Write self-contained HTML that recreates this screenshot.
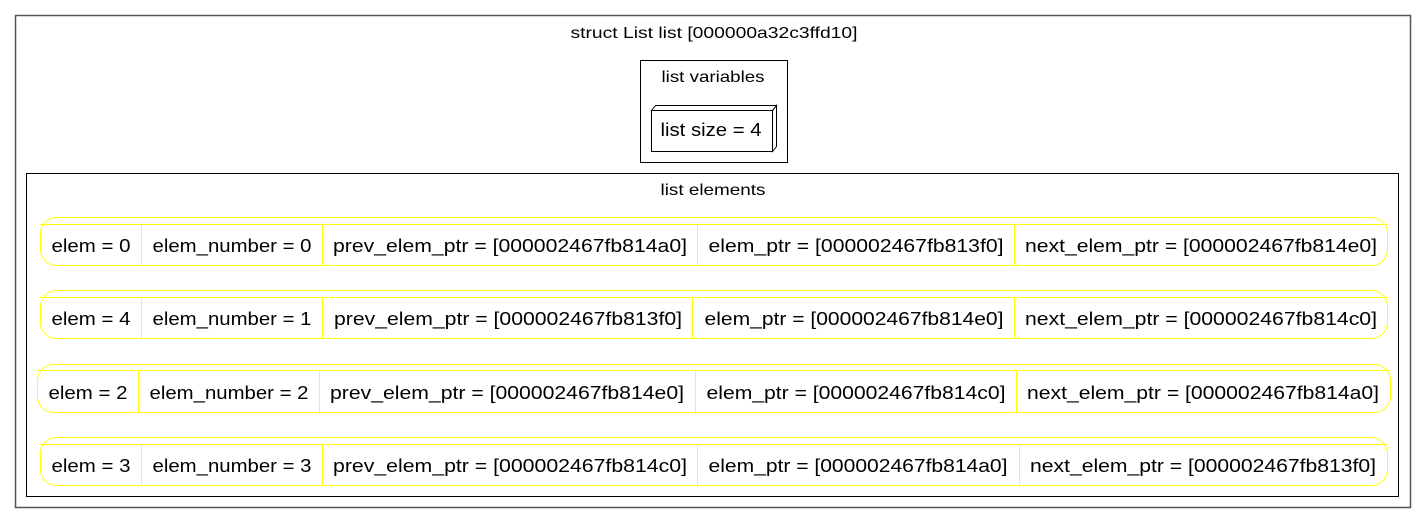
<!DOCTYPE html>
<html><head><meta charset="utf-8"><style>
html,body{margin:0;padding:0;background:#fff;}
svg{display:block;}
text{font-family:"Liberation Sans",Arial,sans-serif;fill:#000;}
</style></head><body>
<svg width="1427" height="524" viewBox="0 0 1427 524" xmlns="http://www.w3.org/2000/svg">
<rect x="15.5" y="15.5" width="1395" height="492" fill="none" stroke="#555" stroke-width="1.5"/>
<text x="714" y="38" font-size="16" text-anchor="middle" textLength="287" lengthAdjust="spacingAndGlyphs">struct List list [000000a32c3ffd10]</text>
<rect x="640.5" y="60.5" width="147" height="102" fill="none" stroke="#000"/>
<text x="713" y="82" font-size="16" text-anchor="middle" textLength="103" lengthAdjust="spacingAndGlyphs">list variables</text>
<polygon points="651.5,110.5 655.5,105.5 776.5,105.5 772.5,110.5" fill="none" stroke="#000"/>
<polygon points="772.5,110.5 776.5,105.5 776.5,146.5 772.5,151.5" fill="none" stroke="#000"/>
<rect x="651.5" y="110.5" width="121" height="41" fill="none" stroke="#000"/>
<text x="711" y="136" font-size="18" text-anchor="middle" textLength="101" lengthAdjust="spacingAndGlyphs">list size = 4</text>
<rect x="26.5" y="173.5" width="1372" height="323" fill="none" stroke="#000"/>
<text x="713" y="195" font-size="16" text-anchor="middle" textLength="105" lengthAdjust="spacingAndGlyphs">list elements</text>
<g fill="none" stroke="#ff0" stroke-width="1">
<rect x="40.5" y="217.5" width="1347" height="48" rx="16"/>
<line x1="40" y1="224.5" x2="1387" y2="224.5"/>
<line x1="141.5" y1="224" x2="141.5" y2="265"/><line x1="322.5" y1="224" x2="322.5" y2="265"/><line x1="697.5" y1="224" x2="697.5" y2="265"/><line x1="1014.5" y1="224" x2="1014.5" y2="265"/>
<rect x="40.5" y="290.5" width="1347" height="48" rx="16"/>
<line x1="40" y1="297.5" x2="1387" y2="297.5"/>
<line x1="141.5" y1="297" x2="141.5" y2="338"/><line x1="322.5" y1="297" x2="322.5" y2="338"/><line x1="692.5" y1="297" x2="692.5" y2="338"/><line x1="1014.5" y1="297" x2="1014.5" y2="338"/>
<rect x="37.5" y="364.5" width="1353" height="48" rx="16"/>
<line x1="37" y1="370.5" x2="1390" y2="370.5"/>
<line x1="138.5" y1="370" x2="138.5" y2="412"/><line x1="319.5" y1="370" x2="319.5" y2="412"/><line x1="695.5" y1="370" x2="695.5" y2="412"/><line x1="1016.5" y1="370" x2="1016.5" y2="412"/>
<rect x="40.5" y="437.5" width="1347" height="48" rx="16"/>
<line x1="40" y1="444.5" x2="1387" y2="444.5"/>
<line x1="141.5" y1="444" x2="141.5" y2="485"/><line x1="322.5" y1="444" x2="322.5" y2="485"/><line x1="697.5" y1="444" x2="697.5" y2="485"/><line x1="1019.5" y1="444" x2="1019.5" y2="485"/>
</g>
<g font-size="18" text-anchor="middle" lengthAdjust="spacingAndGlyphs">
<text x="91" y="252" textLength="79" lengthAdjust="spacingAndGlyphs">elem = 0</text><text x="232" y="252" textLength="159" lengthAdjust="spacingAndGlyphs">elem_number = 0</text><text x="510" y="252" textLength="354" lengthAdjust="spacingAndGlyphs">prev_elem_ptr = [000002467fb814a0]</text><text x="856" y="252" textLength="295" lengthAdjust="spacingAndGlyphs">elem_ptr = [000002467fb813f0]</text><text x="1201" y="252" textLength="352" lengthAdjust="spacingAndGlyphs">next_elem_ptr = [000002467fb814e0]</text>
<text x="91" y="325" textLength="79" lengthAdjust="spacingAndGlyphs">elem = 4</text><text x="232" y="325" textLength="159" lengthAdjust="spacingAndGlyphs">elem_number = 1</text><text x="508" y="325" textLength="348" lengthAdjust="spacingAndGlyphs">prev_elem_ptr = [000002467fb813f0]</text><text x="854" y="325" textLength="299" lengthAdjust="spacingAndGlyphs">elem_ptr = [000002467fb814e0]</text><text x="1201" y="325" textLength="352" lengthAdjust="spacingAndGlyphs">next_elem_ptr = [000002467fb814c0]</text>
<text x="88" y="399" textLength="79" lengthAdjust="spacingAndGlyphs">elem = 2</text><text x="229" y="399" textLength="159" lengthAdjust="spacingAndGlyphs">elem_number = 2</text><text x="507" y="399" textLength="354" lengthAdjust="spacingAndGlyphs">prev_elem_ptr = [000002467fb814e0]</text><text x="856" y="399" textLength="299" lengthAdjust="spacingAndGlyphs">elem_ptr = [000002467fb814c0]</text><text x="1203" y="399" textLength="352" lengthAdjust="spacingAndGlyphs">next_elem_ptr = [000002467fb814a0]</text>
<text x="91" y="472" textLength="79" lengthAdjust="spacingAndGlyphs">elem = 3</text><text x="232" y="472" textLength="159" lengthAdjust="spacingAndGlyphs">elem_number = 3</text><text x="510" y="472" textLength="354" lengthAdjust="spacingAndGlyphs">prev_elem_ptr = [000002467fb814c0]</text><text x="858" y="472" textLength="299" lengthAdjust="spacingAndGlyphs">elem_ptr = [000002467fb814a0]</text><text x="1203" y="472" textLength="346" lengthAdjust="spacingAndGlyphs">next_elem_ptr = [000002467fb813f0]</text>
</g>
</svg>
</body></html>
